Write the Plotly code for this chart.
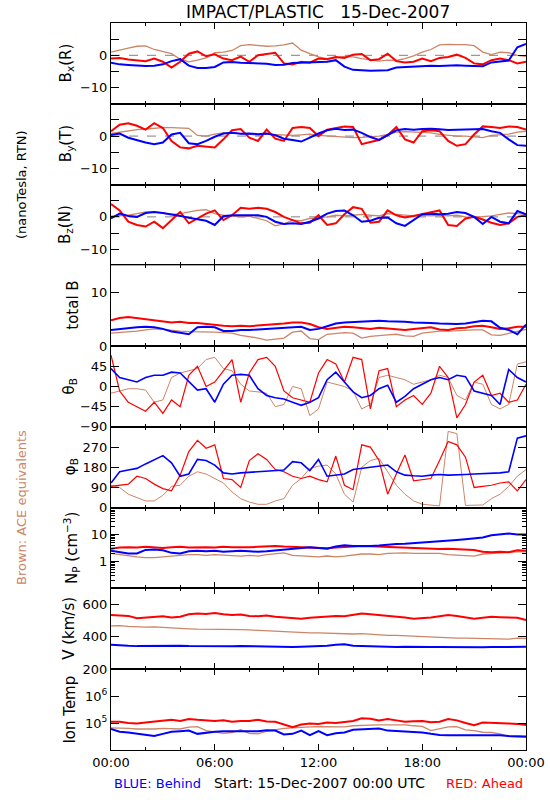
import plotly.graph_objects as go
from plotly.subplots import make_subplots

# ---- time grid (hours after 15-Dec-2007 00:00 UTC) ----
TIME_H = [0.0, 0.5, 1.0, 1.5, 2.0, 2.5, 3.0, 3.5, 4.0, 4.5,
          5.0, 5.5, 6.0, 6.5, 7.0, 7.5, 8.0, 8.5, 9.0, 9.5,
          10.0, 10.5, 11.0, 11.5, 12.0, 12.5, 13.0, 13.5, 14.0, 14.5,
          15.0, 15.5, 16.0, 16.5, 17.0, 17.5, 18.0, 18.5, 19.0, 19.5,
          20.0, 20.5, 21.0, 21.5, 22.0, 22.5, 23.0, 23.5, 24.0]
X_TICK_VALS = [0, 6, 12, 18, 24]
X_TICK_TEXT = ["00:00", "06:00", "12:00", "18:00", "00:00"]
X_MINOR_VALS = [2, 4, 8, 10, 14, 16, 20, 22]

# ---- Bx (R), nT ----
BX_BEHIND = [-2.3, -2.8, -3.0, -3.2, -3.3, -3.2, -2.8, -1.8, -1.2, -3.2,
             -3.9, -3.9, -3.6, -2.2, -2.1, -2.3, -2.4, -2.5, -2.6, -3.0,
             -2.9, -2.4, -2.3, -2.4, -2.2, -2.0, -1.5, -3.5, -4.5, -4.7,
             -4.8, -4.7, -4.6, -3.8, -3.6, -3.5, -3.3, -3.2, -3.3, -3.1,
             -3.1, -3.2, -3.3, -3.4, -2.2, -2.0, -1.6, 2.5, 3.5]
BX_AHEAD = [-1.0, -0.8, -1.3, -1.6, -1.8, -1.0, -2.0, -3.8, -2.0, 0.5,
            1.2, -0.3, 0.3, -1.0, -1.5, -0.4, -2.0, 0.0, 0.5, 0.8,
            -2.5, -2.8, -2.0, -2.3, -1.0, -1.2, -0.5, -0.8, 0.2, 0.4,
            -1.5, -1.2, 0.5, -1.8, -2.2, -2.0, -1.0, -1.8, -0.8, -0.5,
            0.2, -0.8, -2.5, -2.8, -1.5, -1.0, -1.5, -2.5, -2.0]
BX_ACE = [1.0, 1.5, 2.2, 2.8, 2.9, 1.8, 1.2, 0.5, -1.2, -2.0,
          -1.5, -0.8, 0.8, 1.0, 1.5, 3.0, 3.3, 3.0, 2.8, 2.9,
          3.2, 3.8, 1.6, 0.5, -0.5, -1.0, -0.8, -0.3, -0.5, -1.0,
          -1.3, -1.8, -1.5, -1.6, -1.0, -0.2, 1.0, 1.8, 3.2, 3.4,
          3.3, 3.3, 3.0, 1.0, 0.2, 1.0, 0.8, 0.0, -0.3]

# ---- By (T), nT ----
BY_BEHIND = [0.3, 0.8, -0.5, -1.3, -2.0, -2.5, -2.0, 0.5, 1.0, -2.2,
             -2.5, -1.5, -0.2, 0.8, 1.0, 0.7, 0.8, 0.6, 0.8, 0.3,
             -0.8, -1.2, -1.7, -0.5, 0.8, 1.8, 2.3, 1.9, 2.0, 1.0,
             -0.3, -1.2, 0.3, 1.8, 2.2, 2.0, 2.2, 2.3, 2.1, 1.9,
             2.0, 2.1, 2.3, 2.2, 1.5, 1.0, -1.0, -2.8, -3.0]
BY_AHEAD = [1.5, 3.5, 4.0, 3.2, 2.0, 4.0, 2.5, -1.5, -3.5, -3.8,
            -3.0, -3.3, -3.5, -1.0, 1.8, 2.2, -0.5, -1.5, 2.0, -0.8,
            -1.5, 2.5, 2.8, 2.5, 0.0, 2.0, 2.5, 3.0, 2.8, -2.5,
            -1.8, -1.2, 0.3, 2.8, -1.0, -2.0, 1.5, 1.8, 1.5, -1.5,
            -3.0, -2.5, 0.5, 3.0, 2.8, 2.5, 3.0, 2.8, 2.0]
BY_ACE = [0.8, 1.2, 1.8, 2.0, 2.2, 2.5, 2.6, 2.6, 2.5, 2.4,
          0.2, 0.0, 0.6, 1.0, 1.0, 0.8, 0.5, 0.3, 0.6, 0.5,
          0.3, 0.2, 0.4, 0.6, 0.2, 0.0, -0.2, -0.3, -0.5, -0.4,
          -0.2, 0.0, 0.5, 1.2, 1.4, 1.3, 1.2, 1.0, 0.5, 0.2,
          0.0, 0.0, -0.3, -0.5, 0.2, 0.5, 0.6, 1.2, 1.5]

# ---- Bz (N), nT ----
BZ_BEHIND = [-0.5, 1.0, 0.3, 0.0, 1.2, 1.5, 1.2, 0.8, 0.3, -0.3,
             -0.8, -1.2, -2.5, 0.2, 0.5, 0.5, 0.3, 0.5, 0.0, -1.5,
             -2.2, -2.0, -2.2, -1.5, -0.5, 1.0, 1.8, 2.0, 0.5, -1.5,
             -1.2, -0.3, -0.2, -2.0, -2.8, -1.0, 0.8, 1.0, 0.8, 1.0,
             1.5, 1.2, 0.0, -2.2, 0.0, -1.5, -2.0, 1.8, 0.8]
BZ_AHEAD = [4.0, 2.0, -1.5, -2.5, -3.0, -1.5, -3.5, -1.0, 1.5, -2.0,
            -0.5, 1.0, 2.0, -1.0, 0.5, 2.8, 2.5, 2.8, 2.5, 1.5,
            0.0, -1.0, -2.0, -1.8, 0.5, -2.5, -2.0, 0.8, 3.0, 2.5,
            -1.8, -1.5, 2.0, 0.5, -0.2, 0.3, 0.8, 1.5, 2.0, -2.5,
            -2.8, -0.5, 0.0, -0.8, -1.8, -2.5, -2.0, 0.0, 0.5]
BZ_ACE = [0.2, 0.3, 0.5, 1.0, 1.5, 1.5, 1.2, 0.8, 1.0, 1.5,
          2.0, 2.2, 1.0, 0.5, 0.3, 0.0, 0.2, -0.5, -1.2, -2.8,
          -2.2, -1.0, -1.2, -0.5, -0.3, 0.0, 0.5, 0.3, 0.5, 0.8,
          0.5, 0.3, 1.0, 0.8, 0.5, 0.3, 0.5, 0.3, 0.5, 0.3,
          0.5, 0.0, -0.2, 0.0, 0.3, 0.8, 1.2, 1.0, 0.8]

# ---- total B, nT ----
BT_BEHIND = [3.0, 3.2, 3.3, 3.5, 3.6, 3.5, 3.2, 2.7, 2.5, 2.2,
             3.5, 3.6, 3.5, 2.8, 2.8, 3.0, 3.0, 3.1, 3.2, 3.4,
             3.4, 3.6, 3.6, 3.0, 3.2, 3.7, 4.2, 4.4, 4.5, 4.6,
             4.7, 4.7, 4.6, 4.6, 4.5, 4.4, 4.4, 4.3, 4.2, 4.1,
             4.1, 4.2, 4.4, 4.7, 4.6, 3.4, 3.0, 2.2, 4.0]
BT_AHEAD = [4.8, 5.2, 5.4, 5.2, 5.0, 4.9, 4.6, 4.4, 4.5, 4.3,
            4.3, 4.1, 4.0, 3.8, 3.7, 3.8, 3.7, 3.8, 3.9, 4.0,
            4.2, 4.4, 4.4, 4.1, 3.5, 3.2, 3.4, 3.6, 3.5, 3.3,
            3.2, 3.4, 3.3, 3.1, 3.0, 3.2, 3.4, 3.5, 3.1, 3.0,
            3.3, 3.4, 3.7, 3.8, 3.5, 3.2, 3.3, 3.6, 3.6]
BT_ACE = [2.4, 2.5, 2.6, 2.8, 3.0, 3.2, 3.1, 2.9, 2.8, 2.7,
          2.7, 2.7, 2.6, 2.5, 2.4, 2.0, 1.8, 1.5, 1.1, 1.3,
          1.5, 2.6, 2.8, 1.4, 1.2, 2.2, 2.4, 2.5, 2.4, 1.5,
          1.8, 2.0, 2.1, 2.2, 1.9, 1.8, 2.4, 2.6, 2.8, 2.8,
          2.9, 2.9, 3.0, 3.0, 2.1, 2.0, 2.4, 2.7, 3.1]

# ---- theta_B, deg ----
TH_BEHIND = [40, 20, 15, 10, 20, 25, 25, 32, 30, 10,
             -8, -5, -35, 5, 25, 27, 25, -5, -20, -25,
             -28, -35, -42, -35, -25, 15, 32, 10, -12, -25,
             -20, -5, 3, -35, -22, -5, 5, 15, 20, 15,
             25, 22, -10, -15, -20, -40, 38, 20, 10]
TH_AHEAD = [70, -10, -35, -45, -55, -35, -60, -30, -45, 25,
            45, 0, 10, 35, 60, -35, 30, 60, 65, 45,
            -10, -25, -30, -35, 30, 60, 50, 10, 65, 60,
            -50, 35, 40, -45, -30, -20, -40, -15, 45, 20,
            -70, -40, 10, 25, -20, -15, -35, -30, 5]
TH_ACE = [-15, -10, -5, -5, -8, -35, -30, 20, 30, 35,
          40, 60, 65, 40, 35, 5, -10, -12, -15, -45,
          -40, 0, -5, -65, -50, 10, 5, 0, -10, -50,
          -40, 20, 25, 20, 15, 5, 10, 15, 25, 20,
          -20, -30, 10, 5, -40, -50, -40, 50, 55]

# ---- phi_B, deg ----
PH_BEHIND = [110, 160, 168, 175, 195, 215, 232, 200, 140, 150,
             215, 210, 190, 155, 150, 155, 158, 160, 162, 165,
             168, 205, 200, 165, 215, 140, 145, 150, 170, 175,
             180, 185, 190, 160, 145, 142, 140, 145, 148, 145,
             145, 148, 150, 152, 152, 155, 160, 310, 320]
PH_AHEAD = [95, 100, 105, 140, 130, 105, 85, 75, 145, 250,
            300, 265, 280, 130, 125, 90, 210, 240, 215, 170,
            160, 140, 130, 140, 125, 115, 230, 100, 80, 280,
            270, 210, 60, 150, 235, 120, 125, 130, 210, 295,
            280, 225, 90, 95, 100, 110, 115, 75, 125]
PH_ACE = [100, 90, 60, 45, 30, 30, 55, 95, 100, 140,
          160, 150, 130, 110, 70, 40, 25, 15, 15, 30,
          40, 100, 130, 175, 185, 190, 150, 60, 25, 180,
          210, 220, 160, 100, 60, 30, 15, 10, 8, 340,
          330, 10, 10, 12, 40, 60, 95, 140, 170]

# ---- proton density, cm^-3 ----
NP_BEHIND = [2.5, 2.2, 2.0, 2.0, 2.7, 2.8, 2.6, 2.1, 2.0, 2.4,
             2.5, 2.4, 2.5, 2.3, 2.4, 2.5, 2.4, 2.3, 2.4, 2.6,
             2.8, 3.0, 3.2, 3.4, 3.2, 3.0, 3.6, 4.0, 3.8, 3.7,
             3.8, 3.9, 4.3, 4.5, 4.6, 4.8, 5.0, 5.3, 5.6, 6.0,
             6.3, 6.7, 7.2, 7.8, 9.5, 10.5, 11.0, 10.0, 10.0]
NP_AHEAD = [3.0, 3.3, 3.4, 3.3, 3.5, 3.3, 3.2, 3.4, 3.5, 3.3,
            3.4, 3.4, 3.3, 3.5, 3.4, 3.3, 3.4, 3.5, 3.7, 3.8,
            3.6, 3.5, 3.5, 3.4, 3.3, 3.1, 3.3, 3.5, 3.7, 3.8,
            3.7, 3.6, 3.4, 3.3, 3.3, 3.2, 3.0, 2.9, 2.9, 3.0,
            2.9, 2.8, 2.7, 2.3, 2.2, 2.3, 2.2, 2.6, 2.5]
NP_ACE = [2.0, 1.8, 1.6, 1.5, 1.4, 1.4, 1.5, 1.6, 1.7, 1.8,
          1.8, 1.7, 1.8, 1.7, 1.7, 1.6, 1.7, 1.6, 1.8, 2.0,
          2.1, 1.7, 1.6, 1.6, 1.5, 1.6, 1.5, 1.6, 1.8, 1.9,
          1.9, 1.8, 2.0, 2.1, 2.1, 2.0, 2.0, 1.9, 2.0, 1.8,
          1.7, 1.7, 1.6, 1.9, 2.0, 2.1, 2.2, 2.3, 2.3]

# ---- bulk speed, km/s ----
V_BEHIND = [352, 347, 345, 343, 344, 346, 347, 348, 346, 344,
            343, 343, 342, 343, 342, 343, 342, 341, 342, 338,
            336, 338, 339, 340, 340, 345, 352, 355, 345, 343,
            340, 338, 337, 338, 339, 340, 339, 338, 337, 336,
            336, 337, 337, 336, 337, 338, 338, 339, 339]
V_AHEAD = [535, 532, 530, 515, 520, 525, 528, 520, 525, 540,
           545, 542, 548, 540, 535, 538, 530, 528, 532, 525,
           522, 515, 512, 518, 522, 525, 530, 528, 535, 545,
           540, 535, 530, 528, 520, 512, 515, 520, 528, 535,
           530, 520, 512, 518, 525, 522, 520, 518, 505]
V_ACE = [468, 470, 465, 462, 460, 462, 458, 455, 452, 450,
         448, 448, 447, 446, 445, 445, 443, 440, 440, 437,
         435, 432, 428, 425, 425, 423, 422, 420, 418, 420,
         416, 413, 410, 410, 407, 405, 402, 400, 397, 396,
         393, 392, 390, 390, 388, 387, 386, 392, 390]

# ---- ion temperature, K ----
T_BEHIND = [6.03e4, 4.79e4, 4.47e4, 3.98e4, 3.55e4, 3.31e4, 3.98e4, 4.79e4, 5.01e4, 5.25e4,
            3.98e4, 4.47e4, 4.79e4, 5.01e4, 5.01e4, 5.25e4, 5.25e4, 5.01e4, 5.37e4, 5.25e4,
            3.80e4, 3.98e4, 5.25e4, 3.55e4, 5.01e4, 3.55e4, 4.17e4, 4.47e4, 5.62e4, 5.75e4,
            6.03e4, 6.31e4, 5.25e4, 5.01e4, 4.79e4, 4.68e4, 4.47e4, 3.98e4, 3.63e4, 3.55e4,
            3.55e4, 3.55e4, 3.63e4, 3.63e4, 3.72e4, 3.55e4, 3.31e4, 3.16e4, 3.16e4]
T_AHEAD = [1.12e5, 1.12e5, 1.00e5, 9.55e4, 1.05e5, 1.12e5, 1.20e5, 1.32e5, 1.20e5, 1.41e5,
           1.32e5, 1.26e5, 1.20e5, 1.26e5, 1.12e5, 1.20e5, 1.20e5, 1.32e5, 1.15e5, 1.12e5,
           8.91e4, 7.08e4, 8.91e4, 9.55e4, 9.33e4, 1.05e5, 1.00e5, 1.07e5, 1.20e5, 1.51e5,
           1.45e5, 1.26e5, 1.41e5, 1.26e5, 1.12e5, 1.17e5, 1.20e5, 1.07e5, 1.12e5, 1.41e5,
           1.26e5, 1.00e5, 8.32e4, 1.05e5, 1.00e5, 1.00e5, 9.55e4, 9.33e4, 8.51e4]
T_ACE = [6.61e4, 6.61e4, 6.31e4, 6.03e4, 5.89e4, 6.03e4, 6.31e4, 6.03e4, 6.03e4, 7.08e4,
         7.41e4, 5.25e4, 4.79e4, 4.17e4, 4.47e4, 5.62e4, 4.17e4, 3.98e4, 5.01e4, 5.62e4,
         6.31e4, 6.61e4, 7.08e4, 7.24e4, 7.41e4, 7.41e4, 7.08e4, 7.24e4, 7.94e4, 7.94e4,
         8.32e4, 8.51e4, 8.51e4, 8.32e4, 8.51e4, 7.94e4, 7.59e4, 5.25e4, 6.31e4, 7.24e4,
         7.41e4, 5.62e4, 5.25e4, 4.57e4, 4.47e4, 3.98e4, 3.16e4, 3.02e4, 2.95e4]

# ---- y-axis titles ----
Y_TITLES = ["B<sub>x</sub>(R)", "B<sub>y</sub>(T)", "B<sub>z</sub>(N)", "total B",
            "\u03b8<sub>B</sub>", "\u03c6<sub>B</sub>", "N<sub>P</sub> (cm<sup>\u22123</sup>)",
            "V (km/s)", "Ion Temp"]
Y_TITLE_XPX = [66, 66, 66, 73, 69, 70, 71, 69, 70]

BLUE = "rgb(0,0,255)"
RED = "rgb(255,0,0)"
BROWN = "rgb(205,133,104)"
FONT = "DejaVu Sans"

panels = [
    (BX_BEHIND, BX_AHEAD, BX_ACE),
    (BY_BEHIND, BY_AHEAD, BY_ACE),
    (BZ_BEHIND, BZ_AHEAD, BZ_ACE),
    (BT_BEHIND, BT_AHEAD, BT_ACE),
    (TH_BEHIND, TH_AHEAD, TH_ACE),
    (PH_BEHIND, PH_AHEAD, PH_ACE),
    (NP_BEHIND, NP_AHEAD, NP_ACE),
    (V_BEHIND, V_AHEAD, V_ACE),
    (T_BEHIND, T_AHEAD, T_ACE),
]
# line widths per panel (behind, ahead, ace)
WIDTHS = [(2.0, 2.0, 1.3)] * 4 + [(1.6, 1.2, 1.0)] * 2 + [(2.0, 2.0, 1.3)] * 3

fig = make_subplots(rows=9, cols=1, vertical_spacing=0)

for i, (beh, ahd, ace) in enumerate(panels):
    r = i + 1
    wb, wa, wc = WIDTHS[i]
    fig.add_trace(go.Scatter(x=TIME_H, y=ace, mode="lines",
                             line=dict(color=BROWN, width=wc), showlegend=False), row=r, col=1)
    fig.add_trace(go.Scatter(x=TIME_H, y=ahd, mode="lines",
                             line=dict(color=RED, width=wa), showlegend=False), row=r, col=1)
    fig.add_trace(go.Scatter(x=TIME_H, y=beh, mode="lines",
                             line=dict(color=BLUE, width=wb), showlegend=False), row=r, col=1)

common = dict(showline=True, linecolor="black", linewidth=1, mirror="ticks",
              ticks="inside", tickcolor="black", showgrid=False, zeroline=False,
              automargin=False,
              tickfont=dict(family=FONT, size=13, color="black"))

for r in range(1, 10):
    fig.update_xaxes(range=[0, 24], tickmode="array", tickvals=X_TICK_VALS,
                     ticktext=X_TICK_TEXT, ticklen=6,
                     minor=dict(tickmode="array", tickvals=X_MINOR_VALS, ticks="inside",
                                ticklen=3, tickcolor="black"),
                     showticklabels=(r == 9), row=r, col=1, **common)

b_axis = dict(range=[-15, 10], tickmode="array", tickvals=[-10, -5, 0, 5],
              ticktext=["\u221210", "", "0", ""], ticklen=8)
for r in (1, 2, 3):
    fig.update_yaxes(row=r, col=1, **b_axis, **common)
    fig.add_hline(y=0, row=r, col=1, line=dict(color="rgb(128,128,128)", width=1, dash="dash"),
                  layer="below")

fig.update_yaxes(row=4, col=1, range=[0, 15], tickmode="array", tickvals=[0, 10],
                 ticktext=["0", "10"], ticklen=8, **common)
fig.update_yaxes(row=5, col=1, range=[-90, 90], tickmode="array",
                 tickvals=[-90, -45, 0, 45, 90],
                 ticktext=["\u221290", "\u221245", "0", "45", ""], ticklen=8, **common)
fig.update_yaxes(row=6, col=1, range=[0, 360], tickmode="array",
                 tickvals=[0, 90, 180, 270, 360],
                 ticktext=["0", "90", "180", "270", ""], ticklen=8, **common)
np_minor = [0.2, 0.3, 0.4, 0.5, 0.6, 0.7, 0.8, 0.9, 2, 3, 4, 5, 6, 7, 8, 9,
            20, 30, 40, 50, 60, 70, 80, 90]
fig.update_yaxes(row=7, col=1, type="log", range=[-1, 2], tickmode="array",
                 tickvals=[1, 10], ticktext=["1", "10"], ticklen=8,
                 minor=dict(tickmode="array", tickvals=np_minor, ticks="inside",
                            ticklen=4, tickcolor="black"), **common)
fig.update_yaxes(row=8, col=1, range=[200, 700], tickmode="array",
                 tickvals=[200, 400, 600], ticktext=["200", "400", "600"], ticklen=8, **common)
fig.update_yaxes(row=9, col=1, type="log", range=[4, 7], tickmode="array",
                 tickvals=[1e5, 1e6], ticktext=["10<sup>5</sup>", "10<sup>6</sup>"],
                 ticklen=8, **common)

# ---- geometry helpers ----
L, R, T, B = 111, 24, 23, 50
W, H = 550, 800
PW, PH = W - L - R, H - T - B


def px_x(px):
    return (px - L) / PW


def px_y(py):
    return (H - B - py) / PH


def note(text, xpx, ypx, size=13, color="black", angle=0, xanchor="center"):
    return dict(text=text, x=px_x(xpx), y=px_y(ypx), xref="paper", yref="paper",
                xanchor=xanchor, yanchor="middle", showarrow=False, textangle=angle,
                font=dict(family=FONT, size=size, color=color))


ann = [note("IMPACT/PLASTIC   15-Dec-2007", 318, 12, size=17)]
for i, t in enumerate(Y_TITLES):
    ycen = T + (i + 0.5) * PH / 9
    ann.append(note(t, Y_TITLE_XPX[i], ycen, size=15, angle=-90))
ann.append(note("(nanoTesla, RTN)", 21, 185, size=13, angle=-90))
ann.append(note("Brown: ACE equivalents", 21, 508, size=13, color=BROWN, angle=-90))
ann.append(note("BLUE: Behind", 112, 783, size=13, color=BLUE, xanchor="left"))
ann.append(note("Start: 15-Dec-2007 00:00 UTC", 212, 783, size=14, xanchor="left"))
ann.append(note("RED: Ahead", 525, 783, size=13, color=RED, xanchor="right"))

fig.update_layout(width=W, height=H, margin=dict(l=L, r=R, t=T, b=B, pad=0, autoexpand=False),
                  paper_bgcolor="white", plot_bgcolor="white",
                  font=dict(family=FONT, size=13, color="black"),
                  showlegend=False, annotations=ann)

fig.write_html("out.html", config={"displayModeBar": False},
               post_script="document.body.style.margin='0';document.body.style.overflow='hidden';")
